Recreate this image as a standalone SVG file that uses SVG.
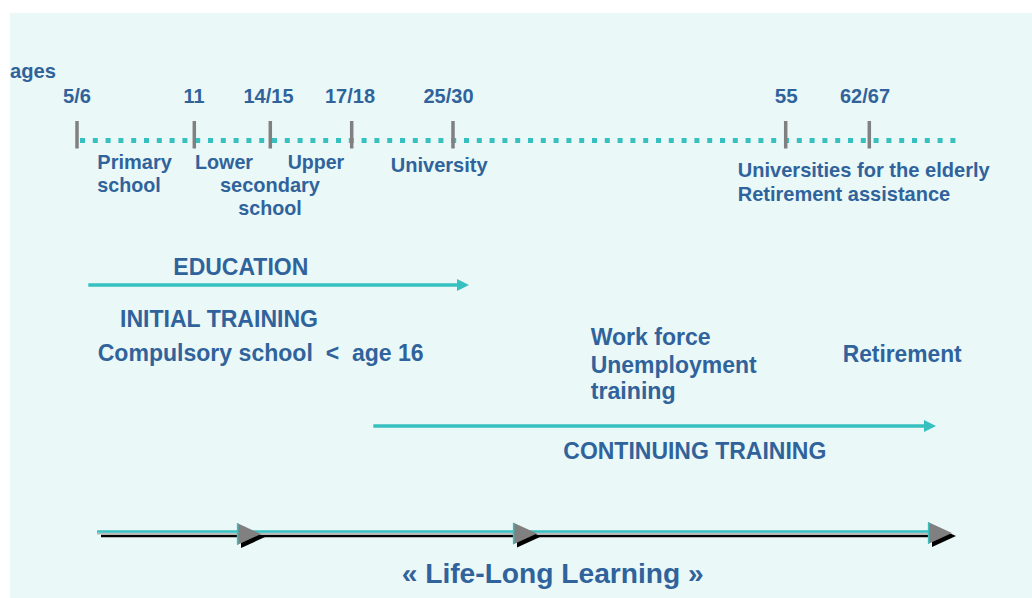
<svg xmlns="http://www.w3.org/2000/svg" width="1032" height="598" viewBox="0 0 1032 598">
<style>
text{font-family:"Liberation Sans",Arial,sans-serif;font-weight:bold;fill:#30639B}
.s20{font-size:20.5px}
.s23{font-size:23.5px}
.s28{font-size:28px}
.tick{stroke:#808080;stroke-width:3.5}
.teal{stroke:#36C0C0;fill:none}
</style>
<defs>
<marker id="ah" markerWidth="12" markerHeight="12" refX="0" refY="6" orient="auto" markerUnits="userSpaceOnUse" viewBox="0 0 12 12">
<path d="M0,0 L12,6 L0,12 Z" fill="#36C0C0"/>
</marker>
<g id="bighead">
<path d="M4,3 L4,25 L28,14 Z" fill="#000"/>
<path d="M0,0 L0,22 L24,11 Z" fill="#808080"/>
<line x1="0.6" y1="0.5" x2="0.6" y2="21.5" stroke="#36C0C0" stroke-width="1.5"/>
</g>
</defs>
<rect x="10" y="13" width="1022" height="585" fill="#EAF8F8"/>

<g id="timeline">
<line x1="80" y1="140.5" x2="956" y2="140.5" stroke="#36C0C0" stroke-width="5" stroke-dasharray="5 7.8"/>
<line class="tick" x1="77" y1="121" x2="77" y2="148.5"/>
<line class="tick" x1="194.3" y1="121" x2="194.3" y2="148.5"/>
<line class="tick" x1="270.3" y1="121" x2="270.3" y2="148.5"/>
<line class="tick" x1="351.7" y1="121" x2="351.7" y2="148.5"/>
<line class="tick" x1="453" y1="121" x2="453" y2="148.5"/>
<line class="tick" x1="785.7" y1="121" x2="785.7" y2="148.5"/>
<line class="tick" x1="869.3" y1="121" x2="869.3" y2="148.5"/>
</g>

<g id="age-labels">
<text class="s20" x="10" y="78" textLength="46" lengthAdjust="spacingAndGlyphs">ages</text>
<text class="s20" x="63" y="103" textLength="28" lengthAdjust="spacingAndGlyphs">5/6</text>
<text class="s20" x="183.5" y="103" textLength="21" lengthAdjust="spacingAndGlyphs">11</text>
<text class="s20" x="243.5" y="103" textLength="50" lengthAdjust="spacingAndGlyphs">14/15</text>
<text class="s20" x="325" y="103" textLength="50" lengthAdjust="spacingAndGlyphs">17/18</text>
<text class="s20" x="423.5" y="103" textLength="50" lengthAdjust="spacingAndGlyphs">25/30</text>
<text class="s20" x="774.7" y="103" textLength="23" lengthAdjust="spacingAndGlyphs">55</text>
<text class="s20" x="840" y="103" textLength="50" lengthAdjust="spacingAndGlyphs">62/67</text>
</g>

<g id="primary">
<text class="s20" x="97.3" y="168.5" textLength="74.5" lengthAdjust="spacingAndGlyphs">Primary</text>
<text class="s20" x="97.3" y="191.5" textLength="63.5" lengthAdjust="spacingAndGlyphs">school</text>
</g>
<g id="lower-secondary">
<text class="s20" x="195" y="168.5" textLength="58" lengthAdjust="spacingAndGlyphs">Lower</text>
<text class="s20" x="220" y="191.5" textLength="100" lengthAdjust="spacingAndGlyphs">secondary</text>
<text class="s20" x="238.3" y="215" textLength="63.5" lengthAdjust="spacingAndGlyphs">school</text>
</g>
<g id="upper">
<text class="s20" x="287.7" y="168.5" textLength="56.5" lengthAdjust="spacingAndGlyphs">Upper</text>
</g>
<g id="university">
<text class="s20" x="390.7" y="171.5" textLength="97" lengthAdjust="spacingAndGlyphs">University</text>
</g>
<g id="elderly">
<text class="s20" x="737.7" y="177.3" textLength="252" lengthAdjust="spacingAndGlyphs">Universities for the elderly</text>
<text class="s20" x="737.7" y="201" textLength="212.5" lengthAdjust="spacingAndGlyphs">Retirement assistance</text>
</g>

<g id="education">
<text class="s23" x="173.3" y="275" textLength="135" lengthAdjust="spacingAndGlyphs">EDUCATION</text>
</g>
<g id="initial-training">
<text class="s23" x="120" y="327.3" textLength="198" lengthAdjust="spacingAndGlyphs">INITIAL TRAINING</text>
<text class="s23" x="97.7" y="361" textLength="326" lengthAdjust="spacingAndGlyphs" xml:space="preserve">Compulsory school  &lt;  age 16</text>
</g>
<g id="work-force">
<text class="s23" x="590.7" y="345" textLength="120" lengthAdjust="spacingAndGlyphs">Work force</text>
<text class="s23" x="590.7" y="372.5" textLength="166" lengthAdjust="spacingAndGlyphs">Unemployment</text>
<text class="s23" x="590.7" y="399" textLength="85" lengthAdjust="spacingAndGlyphs">training</text>
</g>
<g id="retirement">
<text class="s23" x="842.7" y="361.7" textLength="119" lengthAdjust="spacingAndGlyphs">Retirement</text>
</g>
<g id="continuing-training">
<text class="s23" x="563.3" y="459.3" textLength="263" lengthAdjust="spacingAndGlyphs">CONTINUING TRAINING</text>
</g>
<g id="life-long-learning">
<text class="s28" x="401.7" y="583.3" textLength="302" lengthAdjust="spacingAndGlyphs">« Life-Long Learning »</text>
</g>

<g id="connectors">
<line class="teal" x1="88.3" y1="285" x2="457" y2="285" stroke-width="3.5" marker-end="url(#ah)"/>
<line class="teal" x1="373.3" y1="426" x2="924" y2="426" stroke-width="3.5" marker-end="url(#ah)"/>
<line x1="101" y1="536" x2="952" y2="536" stroke="#000" stroke-width="2.6"/>
<line x1="97" y1="533.6" x2="930" y2="533.6" stroke="#B8B8B8" stroke-width="1.6"/>
<line x1="97" y1="531.5" x2="930" y2="531.5" stroke="#36C0C0" stroke-width="2.5"/>
<use href="#bighead" x="237" y="523"/>
<use href="#bighead" x="513" y="522.5"/>
<use href="#bighead" x="928" y="522"/>
</g>
</svg>
